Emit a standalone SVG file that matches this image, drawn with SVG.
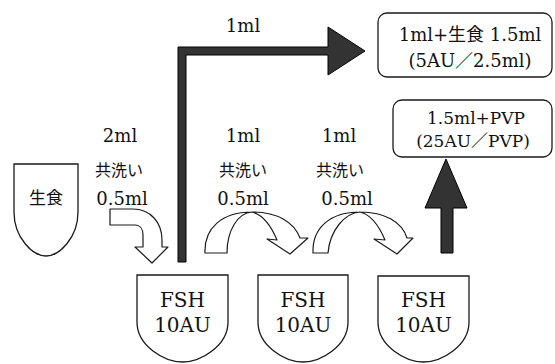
<svg xmlns="http://www.w3.org/2000/svg" width="555" height="364" viewBox="0 0 555 364">
<style>
.shape{fill:#fff;stroke:#1a1a1a;stroke-width:1.3}
.dark{fill:#333;stroke:#000;stroke-width:1}
.wa{fill:#fff;stroke:#1a1a1a;stroke-width:1.2;stroke-linejoin:round}
.t{font-family:"DejaVu Serif","Liberation Serif",serif;font-size:18px;fill:#111;text-anchor:middle}
.tb{font-family:"DejaVu Serif","Liberation Serif",serif;font-size:20px;fill:#111;text-anchor:middle}
.j{font-family:"Noto Sans CJK JP",sans-serif;font-size:16px;fill:#111;text-anchor:middle}
.m{font-family:"DejaVu Serif","Liberation Serif","Noto Sans CJK JP",serif;font-size:18px;fill:#111;text-anchor:middle}
.cj{font-family:"Noto Sans CJK JP",sans-serif}
</style>
<rect width="555" height="364" fill="#fff"/>

<g id="saline">
<path class="shape" d="M14,164 H78 V212 C78,238 59,256 46,256 C33,256 14,238 14,212 Z"/>
<text class="j" x="46" y="204" style="font-size:17px">生食</text>
</g>

<g id="fsh1">
<path class="shape" d="M137,275 H228 V322 C228,346 200.5,362 182.5,362 C164.5,362 137,346 137,322 Z"/>
<text class="tb" x="182.5" y="307">FSH</text>
<text class="tb" x="182.5" y="332">10AU</text>
</g>

<g id="fsh2">
<path class="shape" d="M258,275 H348 V322 C348,346 321,362 303,362 C285,362 258,346 258,322 Z"/>
<text class="tb" x="303" y="307">FSH</text>
<text class="tb" x="303" y="332">10AU</text>
</g>

<g id="fsh3">
<path class="shape" d="M378,276 H469 V322 C469,346 441.5,362 423.5,362 C405.5,362 378,346 378,322 Z"/>
<text class="tb" x="423.5" y="307">FSH</text>
<text class="tb" x="423.5" y="332">10AU</text>
</g>

<g id="result1">
<rect class="shape" x="378" y="13" width="174" height="64" rx="9"/>
<text class="m" x="470" y="41">1ml+<tspan class="cj">生食</tspan> 1.5ml</text>
<text class="m" x="470" y="67">(5AU<tspan class="cj">／</tspan>2.5ml)</text>
</g>

<g id="result2">
<rect class="shape" x="393" y="100" width="159" height="57" rx="9"/>
<text class="m" x="476" y="124" style="font-size:17px">1.5ml+PVP</text>
<text class="m" x="473" y="147" style="font-size:17px">(25AU<tspan class="cj">／</tspan>PVP)</text>
</g>

<g id="connectors">
<path class="dark" d="M178,262 V47 H328 V27 L365,51 L328,75 V55 H186 V262 Z"/>
<path class="dark" d="M441,253 V208 H425 L446,159 L467,208 H453 V253 Z"/>
<path class="wa" d="M110,209 L133,209 C150,209 162,222 162,240 L162,247 L168,247 L152,263 L135,247 L143,247 L143,235 C143,229 140,225 135,225 L110,225 Z"/>
<path class="wa" d="M205,253 C204,228 222,212 252,212 C277,212 294,222 300,238 L308,238 L290,254 L267,239 L277,240 C272,228 264,215 252,212 C238,213 227,230 227,253 Z"/>
<path class="wa" d="M313,253 C312,228 330,212 360,212 C385,212 402,222 407,238 L413,238 L397,254 L374,239 L385,240 C380,228 372,215 360,212 C345,213 330,230 328,253 Z"/>
</g>

<g id="labels">
<text class="t" x="243" y="32">1ml</text>
<text class="t" x="120" y="142">2ml</text>
<text class="j" x="119" y="176">共洗い</text>
<text class="t" x="122" y="205">0.5ml</text>
<text class="t" x="243" y="142">1ml</text>
<text class="j" x="243" y="176">共洗い</text>
<text class="t" x="243" y="205">0.5ml</text>
<text class="t" x="339" y="142">1ml</text>
<text class="j" x="340" y="176">共洗い</text>
<text class="t" x="347" y="205">0.5ml</text>
</g>
</svg>
